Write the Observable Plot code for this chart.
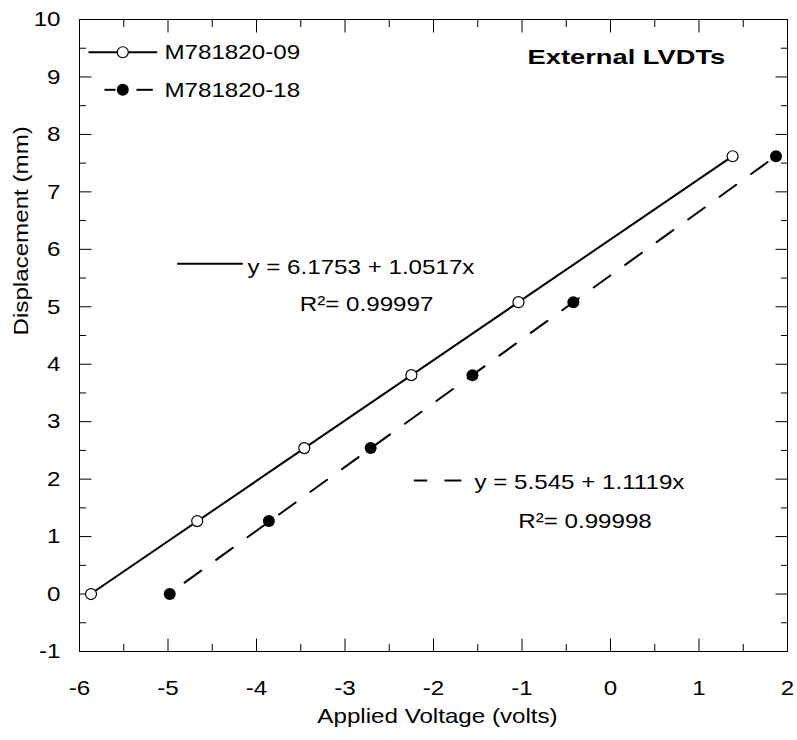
<!DOCTYPE html>
<html><head><meta charset="utf-8">
<script src="https://cdn.jsdelivr.net/npm/d3@7"></script>
<script src="https://cdn.jsdelivr.net/npm/@observablehq/plot@0.6"></script>
<style>body{margin:0;background:#fff;}</style>
</head><body><div id="chart"></div>
<script>
// ---- data ----
const seriesNames = ["M781820-09", "M781820-18"];
const displacement = [0, 1.27, 2.54, 3.81, 5.08, 7.62];
const voltage09 = [-5.87, -4.67, -3.46, -2.25, -1.04, 1.38];
const voltage18 = [-4.98, -3.86, -2.71, -1.56, -0.42, 1.87];
const equations = ["y = 6.1753 + 1.0517x", "y = 5.545 + 1.1119x"];
const rSquared = ["R\u00B2= 0.99997", "R\u00B2= 0.99998"];
const chartTitle = "External LVDTs";
const xLabel = "Applied Voltage (volts)";
const yLabel = "Displacement (mm)";
const xTicks = [-6, -5, -4, -3, -2, -1, 0, 1, 2];
const yTicks = [-1, 0, 1, 2, 3, 4, 5, 6, 7, 8, 9, 10];
const xMinor = [-5.5, -4.5, -3.5, -2.5, -1.5, -0.5, 0.5, 1.5];
const yMinor = [-0.5, 0.5, 1.5, 2.5, 3.5, 4.5, 5.5, 6.5, 7.5, 8.5, 9.5];

// annotation anchors (data units)
const legendRowY = [9.43, 8.776];
const legendSwatchX = [-5.898, -5.122];
const legendMarkerX = -5.511;
const legendTextX = -5.04;
const titlePos = {x: -0.938, y: 9.339};
const eqPos = [{x: -4.102, y: 5.692}, {x: -1.537, y: 1.95}];
const r2Pos = [{x: -3.511, y: 5.039}, {x: -1.043, y: 1.266}];
const eqSwatch = [{x1: -4.896, x2: -4.155, y: 5.748}, {x1: -2.223, x2: -1.684, y: 1.976}];

const s09 = displacement.map((d, i) => ({x: voltage09[i], y: d}));
const s18 = displacement.map((d, i) => ({x: voltage18[i], y: d}));

const FS = 21;
const dashSeg = (x1, x2, y) => [{x1, x2: x1 + (x2 - x1) * 0.28, y}, {x1: x1 + (x2 - x1) * 0.64, x2, y}];

const tickAxes = [];
for (const a of ["bottom", "top"]) {
  tickAxes.push(Plot.axisX({ticks: xTicks, anchor: a, tickSize: -12.5, fill: "none", label: null, stroke: "black"}));
  tickAxes.push(Plot.axisX({ticks: xMinor, anchor: a, tickSize: -7, fill: "none", label: null, stroke: "black"}));
}
for (const a of ["left", "right"]) {
  tickAxes.push(Plot.axisY({ticks: yTicks, anchor: a, tickSize: -12.5, fill: "none", label: null, stroke: "black"}));
  tickAxes.push(Plot.axisY({ticks: yMinor, anchor: a, tickSize: -7, fill: "none", label: null, stroke: "black"}));
}

const chart = Plot.plot({
  width: 797, height: 740,
  marginLeft: 79, marginRight: 10, marginTop: 19, marginBottom: 89,
  style: {fontFamily: '"Liberation Sans", Arial, sans-serif', fontSize: FS + "px", background: "white", color: "black"},
  x: {domain: [-6, 2]},
  y: {domain: [-1, 10]},
  marks: [
    Plot.frame({stroke: "black", strokeWidth: 1}),
    ...tickAxes,
    Plot.axisX({ticks: xTicks, anchor: "bottom", tickSize: 0, tickPadding: 29, fontSize: FS, label: null, tickFormat: d => String(d)}),
    Plot.axisY({ticks: yTicks, anchor: "left", tickSize: 0, tickPadding: 19, fontSize: FS, label: null, tickFormat: d => String(d)}),
    Plot.text([xLabel], {frameAnchor: "bottom", dy: 71, dx: 4, text: d => d, fontSize: FS}),
    Plot.text([yLabel], {frameAnchor: "left", dx: -58, rotate: -90, text: d => d, fontSize: FS}),
    // regression lines
    Plot.linearRegressionY(s09, {x: "x", y: "y", ci: 0, stroke: "black", strokeWidth: 2}),
    Plot.linearRegressionY(s18, {x: "x", y: "y", ci: 0, stroke: "black", strokeWidth: 2, strokeDasharray: "20.5,18.3", strokeDashoffset: 20.5}),
    // points
    Plot.dot(s09, {x: "x", y: "y", r: 5.5, stroke: "black", strokeWidth: 1.2, fill: "white"}),
    Plot.dot(s18, {x: "x", y: "y", r: 6, fill: "black", stroke: "none"}),
    // legend
    Plot.link([{x1: legendSwatchX[0], x2: legendSwatchX[1], y: legendRowY[0]}], {x1: "x1", x2: "x2", y1: "y", y2: "y", stroke: "black", strokeWidth: 2}),
    Plot.link(dashSeg(-5.718, -5.172, legendRowY[1]).map((d, i) => i === 0 ? {...d, x2: -5.593} : {...d, x1: -5.356}), {x1: "x1", x2: "x2", y1: "y", y2: "y", stroke: "black", strokeWidth: 2}),
    Plot.dot([legendRowY[0]], {x: () => legendMarkerX, y: d => d, r: 5.5, stroke: "black", strokeWidth: 1.2, fill: "white"}),
    Plot.dot([legendRowY[1]], {x: () => legendMarkerX, y: d => d, r: 6, fill: "black", stroke: "none"}),
    Plot.text(seriesNames, {x: () => legendTextX, y: (d, i) => legendRowY[i], text: d => d, textAnchor: "start", fontSize: FS}),
    // title
    Plot.text([chartTitle], {x: () => titlePos.x, y: () => titlePos.y, text: d => d, textAnchor: "start", fontSize: FS, fontWeight: "bold"}),
    // equation annotations
    Plot.link([eqSwatch[0]], {x1: "x1", x2: "x2", y1: "y", y2: "y", stroke: "black", strokeWidth: 2}),
    Plot.link([{x1: -2.223, x2: -2.071, y: eqSwatch[1].y}, {x1: -1.876, x2: -1.684, y: eqSwatch[1].y}], {x1: "x1", x2: "x2", y1: "y", y2: "y", stroke: "black", strokeWidth: 2}),
    Plot.text(equations, {x: (d, i) => eqPos[i].x, y: (d, i) => eqPos[i].y, text: d => d, textAnchor: "start", fontSize: FS}),
    Plot.text(rSquared, {x: (d, i) => r2Pos[i].x, y: (d, i) => r2Pos[i].y, text: d => d, textAnchor: "start", fontSize: FS})
  ]
});
document.getElementById("chart").append(chart);
// widen glyphs to match the reference's wide lettering
chart.querySelectorAll("text").forEach(t => {
  const bold = t.closest('[font-weight="bold"]');
  const f = bold ? 1.3 : 1.15;
  const len = t.getComputedTextLength();
  if (len > 0) {
    t.setAttribute("textLength", (len * f).toFixed(2));
    t.setAttribute("lengthAdjust", "spacingAndGlyphs");
  }
});
</script>
</body></html>
